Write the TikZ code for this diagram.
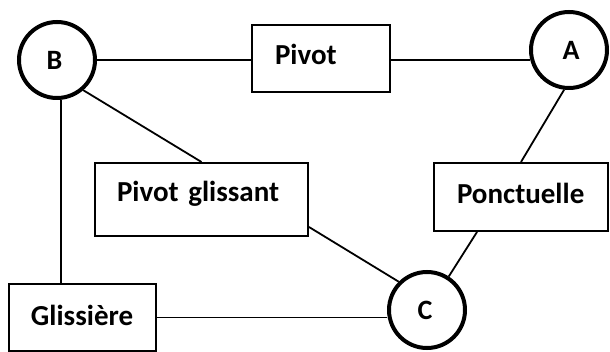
\documentclass[tikz,border=0pt]{standalone}
\usepackage{fontspec}
\setmainfont{Carlito}
\begin{document}
\begin{tikzpicture}[x=0.5pt,y=-0.5pt,
  joint/.style={circle,draw,line width=2pt,fill=white,minimum size=38pt,inner sep=0pt,
    font=\fontsize{14pt}{16pt}\selectfont\bfseries},
  linkbox/.style={rectangle,draw,line width=1pt,fill=white,align=left,inner ysep=0pt,
    text height=9.3pt,text depth=0pt,font=\fontsize{14.5pt}{16pt}\selectfont\bfseries},
  wire/.style={line width=0.9pt}]
\useasboundingbox (0,0) rectangle (610,352);
\node[joint] (B) at (57,60) {\kern-2.5pt B};
\node[joint] (A) at (569,50) {A\kern-2pt};
\node[joint] (C) at (427,310) {\kern-2pt C};
\node[linkbox,text width=46pt,inner xsep=11.5pt,minimum height=33.5pt] (P) at (321,58.5) {\raisebox{1.75pt}{Pivot}};
\node[linkbox,text width=84.5pt,inner xsep=11pt,minimum height=36.5pt] (PG) at (201.5,199.5) {\raisebox{3.75pt}{Pivot glissant}};
\node[linkbox,text width=64pt,inner xsep=11.5pt,minimum height=34pt] (PO) at (521,197) {\raisebox{1.5pt}{Ponctuelle}};
\node[linkbox,text width=51.5pt,inner xsep=11pt,minimum height=33.5pt] (G) at (82.5,317.5) {\raisebox{0.75pt}{Glissière}};
\draw[wire] (B.east) -- (B.east -| P.west);
\draw[wire] (A.195 -| P.east) -- (A.195);
\draw[wire] (B.-84) -- (B.-84 |- G.north);
\draw[wire] (B.-49) -- (PG.north);
\draw[wire] (A.-97) -- (PO.north);
\draw[wire] (G.east) -- (G.east -| C.west);
\draw[wire] ([yshift=5pt]PG.south east) -- (C.135);
\draw[wire] ([xshift=22pt]PO.south west) -- (C.57);
\end{tikzpicture}
\end{document}
